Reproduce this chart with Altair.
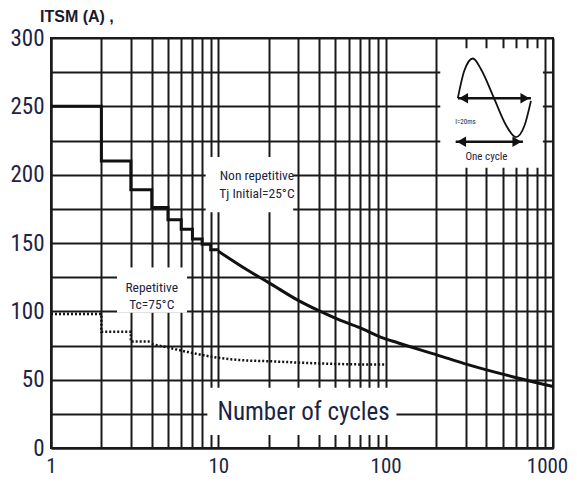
import altair as alt
import pandas as pd

# ---- data ----
# Non repetitive, Tj initial = 25°C (solid)
nr_step_x = [1, 2, 3, 4, 5, 6, 7, 8, 9, 10]
nr_step_y = [250, 210, 189, 176, 167, 160, 153, 149, 145, 145]
nr_curve_x = [10, 15, 20, 30, 39, 50, 70, 94, 118, 204, 310, 580, 1000]
nr_curve_y = [144, 130, 121, 108, 101, 95, 88, 81, 77, 68, 61, 52, 45]
# Repetitive, Tc = 75°C (dotted)
r_step_x = [1, 2, 3, 4]
r_step_y = [98, 85, 78, 78]
r_curve_x = [4, 5, 7, 10, 15, 20, 30, 50, 100]
r_curve_y = [76, 73.5, 69.5, 66, 64, 63.5, 62.5, 61.5, 61]

x_ticks = [1, 2, 3, 4, 5, 6, 7, 8, 9,
           10, 20, 30, 40, 50, 60, 70, 80, 90,
           100, 200, 300, 400, 500, 600, 700, 800, 900, 1000]
x_labels = [1, 10, 100, 1000]
y_ticks = [0, 25, 50, 75, 100, 125, 150, 175, 200, 225, 250, 275, 300]
y_labels = [0, 50, 100, 150, 200, 250, 300]

# annotation boxes (white patches that interrupt the grid)
box_x = [8.4, 2.48, 8.6, 212]
box_x2 = [28, 6.5, 116, 870]
box_y = [172.5, 99, 9.5, 205]
box_y2 = [213, 132, 44, 292.5]

# inset sketch (sine + arrows)
sine_x = [270, 295, 332, 372, 444, 525, 600, 676, 738]
sine_y = [256, 276, 285, 277, 256, 236, 227.5, 236, 254]
arrow_x = [270, 738, 262, 661]
arrow_y = [256, 256, 224, 224]
arrow_id = ["a", "a", "b", "b"]
head_x = [292, 680, 284, 609]
head_y = [256, 256, 224, 224]
head_shape = ["triangle-left", "triangle-right", "triangle-left", "triangle-right"]

NARROW = "Liberation Sans Narrow, Roboto Condensed, DejaVu Sans Condensed, sans-serif"
INK = "#1b2447"
GRID = "#1a1a1a"

x_axis = alt.Axis(values=x_ticks, title=None, ticks=False, grid=True,
                  gridColor=GRID, gridWidth=2, gridOpacity=1,
                  domainColor=GRID, domainWidth=2,
                  labelExpr="indexof([1,10,100,1000], datum.value) >= 0 ? format(datum.value, 'd') : ''",
                  labelFont=NARROW, labelFontSize=21, labelColor=INK,
                  labelPadding=7, labelAngle=0, labelOverlap=False,
                  labelFlush=False, labelBound=False,
                  labelOffset={"condition": {"test": "datum.value === 1000", "value": -6}, "value": 0})
y_axis = alt.Axis(values=y_ticks, title=None, ticks=False, grid=True,
                  gridColor=GRID, gridWidth=2, gridOpacity=1,
                  domainColor=GRID, domainWidth=2,
                  labelExpr="datum.value % 50 === 0 ? datum.label : ''",
                  labelFont=NARROW, labelFontSize=23, labelColor=INK,
                  labelPadding=7, labelOverlap=False)

xs = alt.Scale(type="log", domain=[1, 1000])
ys = alt.Scale(domain=[0, 300])


def X(f="x"):
    return alt.X(f"{f}:Q", scale=xs, axis=x_axis)


def Y(f="y"):
    return alt.Y(f"{f}:Q", scale=ys, axis=y_axis)


boxes = pd.DataFrame({"x": box_x, "x2": box_x2, "y": box_y, "y2": box_y2})
rects = alt.Chart(boxes).mark_rect(color="white", opacity=1).encode(
    x=X(), x2="x2:Q", y=Y(), y2="y2:Q")

nr_step = alt.Chart(pd.DataFrame({"x": nr_step_x, "y": nr_step_y})).mark_line(
    interpolate="step-after", color="#111", strokeWidth=3).encode(x=X(), y=Y())
nr_curve = alt.Chart(pd.DataFrame({"x": nr_curve_x, "y": nr_curve_y})).mark_line(
    interpolate="monotone", color="#111", strokeWidth=3).encode(x=X(), y=Y())
r_step = alt.Chart(pd.DataFrame({"x": r_step_x, "y": r_step_y})).mark_line(
    interpolate="step-after", color="#111", strokeWidth=2.5, strokeDash=[2, 2]).encode(x=X(), y=Y())
r_curve = alt.Chart(pd.DataFrame({"x": r_curve_x, "y": r_curve_y})).mark_line(
    interpolate="monotone", color="#111", strokeWidth=2.5, strokeDash=[2, 2]).encode(x=X(), y=Y())

sine = alt.Chart(pd.DataFrame({"x": sine_x, "y": sine_y})).mark_line(
    interpolate="monotone", color="#111", strokeWidth=1.8).encode(x=X(), y=Y())
arrows = alt.Chart(pd.DataFrame({"x": arrow_x, "y": arrow_y, "id": arrow_id})).mark_line(
    color="#111", strokeWidth=2.5).encode(x=X(), y=Y(), detail="id:N")
heads = alt.Chart(pd.DataFrame({"x": head_x, "y": head_y, "s": head_shape})).mark_point(
    filled=True, color="#111", opacity=1, size=110).encode(
    x=X(), y=Y(), shape=alt.Shape("s:N", scale=None))

ann = pd.DataFrame({
    "x": [32.3, 17, 17, 4.0, 4.0, 300, 400],
    "y": [20.5, 196, 183, 114.5, 101.5, 237, 211],
    "t": ["Number of cycles", "Non repetitive", "Tj Initial=25°C",
          "Repetitive", "Tc=75°C", "I=20ms", "One cycle"],
    "s": [25, 13.5, 13.5, 13.5, 13.5, 7, 11],
})
texts = alt.Chart(ann).mark_text(font=NARROW, color=INK, baseline="alphabetic",
                                 align="center").encode(
    x=X(), y=Y(), text="t:N", size=alt.Size("s:Q", scale=None))

title = alt.Chart(pd.DataFrame({"t": ["ITSM (A)  ,"]})).mark_text(
    font="Liberation Sans, Arial, sans-serif", fontSize=16, fontWeight="bold",
    color="#1a1a2a", align="left", baseline="alphabetic").encode(
    text="t:N", x=alt.value(-11), y=alt.value(-16))

chart = alt.layer(rects, r_step, r_curve, nr_step, nr_curve, sine, arrows, heads, texts, title).properties(
    width=502, height=410,
    autosize=alt.AutoSizeParams(type="none"),
    padding={"left": 43, "top": 30, "right": 16, "bottom": 30},
).configure_view(stroke=GRID, strokeWidth=2)

chart.save("out.html", embed_options={"renderer": "svg", "actions": False})
